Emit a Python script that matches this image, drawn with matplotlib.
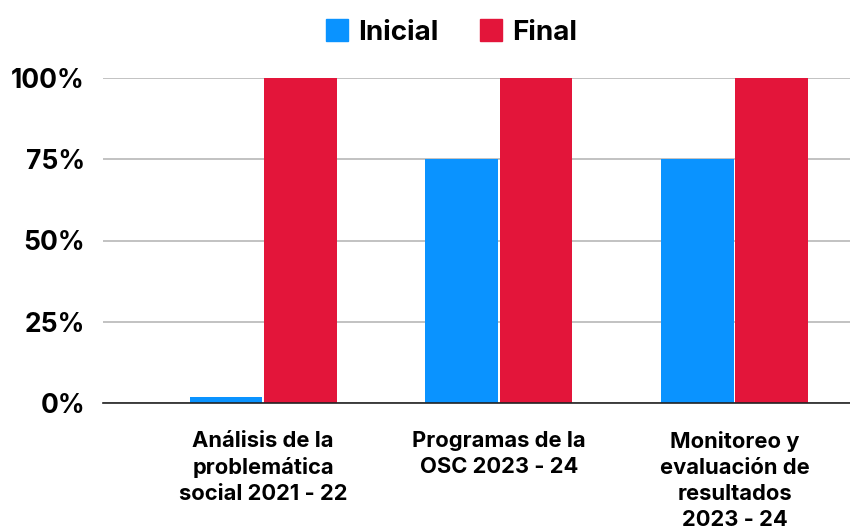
import matplotlib
matplotlib.use("Agg")
import matplotlib.pyplot as plt
from matplotlib.lines import Line2D
import numpy as np

categories = ["Análisis de la\nproblemática\nsocial 2021 - 22",
              "Programas de la\nOSC 2023 - 24",
              "Monitoreo y\nevaluación de\nresultados\n2023 - 24"]
inicial = [0.02, 0.75, 0.75]
final = [1.0, 1.0, 1.0]
series_names = ["Inicial", "Final"]
yticks = [0, 0.25, 0.5, 0.75, 1.0]
ytick_labels = ["0%", "25%", "50%", "75%", "100%"]

blue = "#0A93FF"
red = "#E3153A"
plt.rcParams['font.family'] = ['Inter', 'DejaVu Sans']

fig = plt.figure(figsize=(8.5, 5.32), dpi=100)
ax = fig.add_axes([103/850, (532-403)/532, 1 - 103/850, (403-78)/532])

x = np.arange(len(categories))
w = 0.308
ax.bar(x - w/2 - 0.004, inicial, width=w, color=blue, zorder=3, clip_on=False)
ax.bar(x + w/2 + 0.004, final, width=w, color=red, zorder=3, clip_on=False)

ax.set_xlim(-0.68, 2.49)
ax.set_ylim(0, 1.0)
ax.set_yticks(yticks)
ax.set_yticklabels(ytick_labels, fontsize=19, fontweight='bold')
ax.yaxis.grid(True, color="#b8b8b8", linewidth=1.2, zorder=0)
ax.set_axisbelow(True)
ax.tick_params(axis='y', length=0, pad=13)
ax.set_xticks(x)
ax.set_xticklabels(categories, fontsize=15.8, fontweight='bold', linespacing=1.38, va='top')
ax.tick_params(axis='x', length=0, pad=20)
for s in ['top', 'right', 'left']:
    ax.spines[s].set_visible(False)
ax.spines['bottom'].set_color('#222222')
ax.spines['bottom'].set_linewidth(1.2)
ax.spines['bottom'].set_zorder(4)
handles = [Line2D([0], [0], marker='s', color='w', markerfacecolor=c, markeredgecolor=c,
                  markersize=16, linestyle='None') for c in (blue, red)]
fig.legend(handles, series_names, loc='center', bbox_to_anchor=(450/850, 1 - 33/532),
           ncol=2, frameon=False, prop={'weight': 'bold', 'size': 20},
           handletextpad=0.25, columnspacing=1.4, handlelength=1.0)

fig.savefig("out.png", dpi=100)
